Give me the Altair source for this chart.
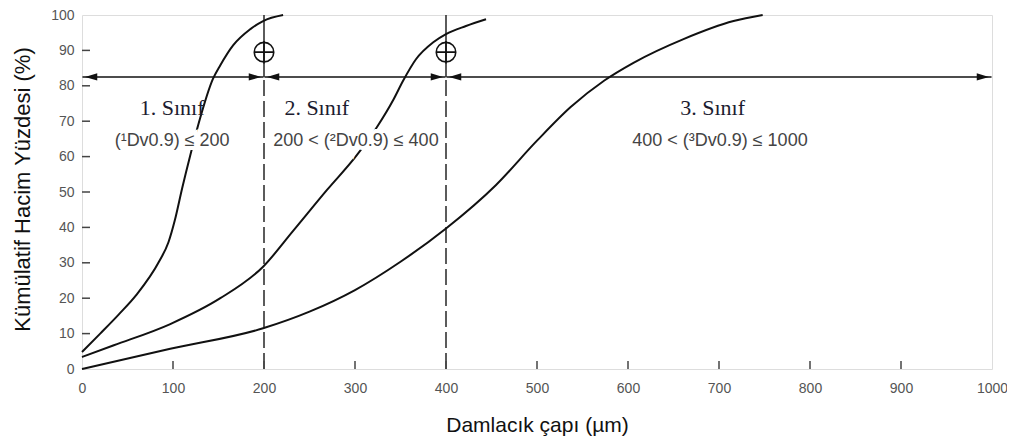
import altair as alt
import pandas as pd

# ---- data ----
c1_x = [0, 20, 40, 60, 85, 95, 102, 110, 119, 128, 144, 152, 166, 185, 199, 221]
c1_y = [4.8, 10, 15.3, 21, 30.5, 35.8, 42, 51, 60.4, 69.2, 82, 85.8, 91.4, 96, 98.3, 100]
c2_x = [0, 35, 97, 152, 199, 232, 269, 302, 324, 342, 353, 367, 386, 400, 422, 444]
c2_y = [3.4, 6.7, 12.7, 20, 28.9, 39, 50.5, 60.4, 68.3, 76, 81.5, 87.5, 92.3, 94.6, 96.9, 98.8]
c3_x = [0, 97, 199, 250, 300, 350, 400, 455, 500, 537, 574, 606, 661, 716, 748]
c3_y = [0, 5.7, 11.5, 16.2, 22.3, 30.3, 39.7, 52, 64.5, 74, 81.5, 86.5, 93.2, 98.3, 100]

bounds = [200, 400]
seg_start = [0, 200, 400]
seg_end = [200, 400, 1000]
arrow_level = 82.5
marker_level = 89.5

class_names = ["1. Sınıf", "2. Sınıf", "3. Sınıf"]
class_x = [99, 258, 693]
class_y = [73.6, 73.6, 73.6]
rule_texts = ["(¹Dv0.9) ≤ 200", "200 < (²Dv0.9) ≤ 400", "400 < (³Dv0.9) ≤ 1000"]
rule_x = [99, 301, 701]
rule_y = [64.4, 64.4, 64.4]

x_ticks = list(range(0, 1001, 100))
y_ticks = list(range(0, 101, 10))

W, H = 910, 354

rows = []
for name, xs, ys in [("c1", c1_x, c1_y), ("c2", c2_x, c2_y), ("c3", c3_x, c3_y)]:
    for a, b in zip(xs, ys):
        rows.append({"s": name, "x": a, "y": b})
curves_df = pd.DataFrame(rows)

xs = alt.Scale(domain=[0, 1000], nice=False, zero=False)
ys = alt.Scale(domain=[0, 100], nice=False, zero=False)

x_axis = alt.Axis(values=x_ticks, format="d", grid=False, domain=False, ticks=False, labelPadding=12,
                  labelFontSize=14, labelColor="#555", labelFont="Liberation Sans",
                  labelOverlap=False, labelFlush=False,
                  title="Damlacık çapı (µm)", titleFontSize=21, titleFont="Liberation Sans",
                  titleFontWeight="normal", titleColor="#111", titleX=455, titleY=56,
                  titleBaseline="middle", titleAlign="center")
y_axis = alt.Axis(values=y_ticks, format="d", grid=False, domain=False, ticks=False, labelPadding=8,
                  labelFontSize=14, labelColor="#555", labelFont="Liberation Sans",
                  labelOverlap=False, labelFlush=False,
                  title="Kümülatif Hacim Yüzdesi (%)", titleFontSize=22, titleFont="Liberation Sans",
                  titleFontWeight="normal", titleColor="#111", titleX=-60, titleY=174,
                  titleBaseline="middle", titleAlign="center", titleAngle=270)


def X(field):
    return alt.X(field, scale=xs, axis=x_axis)


def Y(field):
    return alt.Y(field, scale=ys, axis=y_axis)


curves = alt.Chart(curves_df).mark_line(color="#111", strokeWidth=2, interpolate="monotone").encode(
    x=X("x:Q"), y=Y("y:Q"), detail="s:N",
)

# inward ticks
xt_df = pd.DataFrame({"v": x_ticks[1:-1]})
xtick = alt.Chart(xt_df).mark_rule(color="#444", strokeWidth=1.5).encode(
    x=X("v:Q"), y=alt.value(H), y2=alt.value(H - 8))
yt_df = pd.DataFrame({"v": y_ticks[1:-1]})
ytick = alt.Chart(yt_df).mark_rule(color="#444", strokeWidth=1.5).encode(
    y=Y("v:Q"), x=alt.value(0), x2=alt.value(8))

b_df = pd.DataFrame({"b": bounds, "lo": [0] * len(bounds), "mid": [arrow_level] * len(bounds),
                     "hi": [100] * len(bounds), "m": [marker_level] * len(bounds)})
dashed = alt.Chart(b_df).mark_rule(color="#333", strokeWidth=1.6, strokeDash=[16, 5]).encode(
    x=X("b:Q"), y=Y("lo:Q"), y2="mid:Q")
solid = alt.Chart(b_df).mark_rule(color="#333", strokeWidth=1.6).encode(
    x=X("b:Q"), y=Y("mid:Q"), y2="hi:Q")

marker_path = "M-1,0A1,1,0,1,0,1,0A1,1,0,1,0,-1,0M-1,0L1,0M0,-1.15L0,1.15"
markers = alt.Chart(b_df).mark_point(shape=marker_path, size=380, filled=False,
                                     color="#111", strokeWidth=1.6, opacity=1).encode(
    x=X("b:Q"), y=Y("m:Q"))

seg_df = pd.DataFrame({"a": seg_start, "b": seg_end, "lv": [arrow_level] * 3})
arrow_lines = alt.Chart(seg_df).transform_calculate(
    a2="datum.a + 0.5", b2="datum.b - 0.5"
).mark_rule(color="#111", strokeWidth=1.6).encode(
    x=X("a2:Q"), x2="b2:Q", y=Y("lv:Q"))

right_head = alt.Chart(seg_df).mark_point(shape="M0,0L-2,-0.6L-2,0.6Z", size=150, filled=True,
                                          color="#111", opacity=1, xOffset=-3).encode(
    x=X("b:Q"), y=Y("lv:Q"))
left_head = alt.Chart(seg_df).mark_point(shape="M0,0L2,-0.6L2,0.6Z", size=150, filled=True,
                                         color="#111", opacity=1, xOffset=3).encode(
    x=X("a:Q"), y=Y("lv:Q"))

cls_df = pd.DataFrame({"t": class_names, "x": class_x, "y": class_y})
cls_text = alt.Chart(cls_df).mark_text(font="Liberation Serif", fontSize=22, color="#1c1c30",
                                       baseline="middle", align="center").encode(
    x=X("x:Q"), y=Y("y:Q"), text="t:N")

rt_df = pd.DataFrame({"t": rule_texts, "x": rule_x, "y": rule_y})
rt_halo = alt.Chart(rt_df).mark_text(font="Liberation Sans", fontSize=18, color="white",
                                     stroke="white", strokeWidth=8,
                                     baseline="middle", align="center").encode(
    x=X("x:Q"), y=Y("y:Q"), text="t:N")
rt_text = alt.Chart(rt_df).mark_text(font="Liberation Sans", fontSize=18, color="#444",
                                     baseline="middle", align="center").encode(
    x=X("x:Q"), y=Y("y:Q"), text="t:N")

chart = alt.layer(
    dashed, solid, curves, xtick, ytick, markers, arrow_lines, right_head, left_head,
    cls_text, rt_halo, rt_text
).properties(
    width=W, height=H,
    autosize=alt.AutoSizeParams(type="none"),
    padding={"left": 74, "top": 7, "right": 15, "bottom": 67},
).configure_view(stroke="#444", strokeWidth=1.6).configure(background="white")

chart.save("out.html", embed_options={"renderer": "svg", "actions": False})
